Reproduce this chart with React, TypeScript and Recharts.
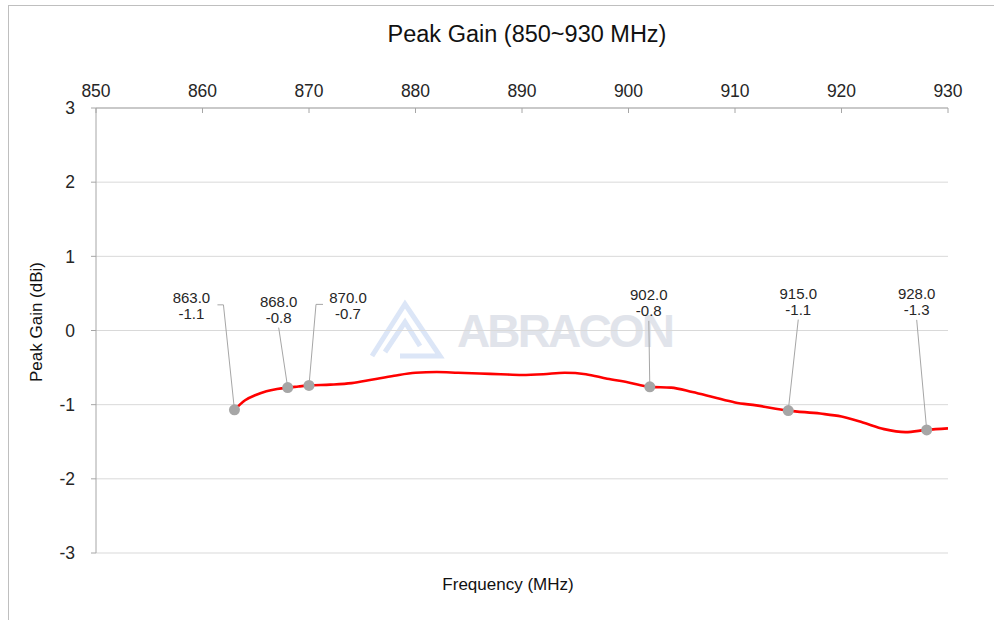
import { ComposedChart, Line, XAxis, YAxis, CartesianGrid } from 'recharts';

// measured peak gain (dBi) vs frequency (MHz)
const freqs = [863, 864, 865, 866, 867, 868, 869, 870, 872, 874, 876, 878, 880, 882, 884, 886, 888, 890, 892, 894, 896, 898, 900, 902, 904, 906, 908, 910, 912, 915, 918, 920, 922, 924, 926, 928, 930];
const gains = [-1.07, -0.94, -0.87, -0.82, -0.79, -0.77, -0.755, -0.74, -0.73, -0.71, -0.66, -0.61, -0.57, -0.56, -0.57, -0.58, -0.59, -0.6, -0.59, -0.57, -0.59, -0.65, -0.7, -0.76, -0.77, -0.83, -0.9, -0.97, -1.01, -1.08, -1.12, -1.16, -1.24, -1.33, -1.37, -1.34, -1.32];
const markerFreqs = [863, 868, 870, 902, 915, 928];

const xTicks = [850, 860, 870, 880, 890, 900, 910, 920, 930];
const yTicks = [-3, -2, -1, 0, 1, 2, 3];

const curve = freqs.map((freq, i) => ({ freq, gain: gains[i] }));
const markers = curve.filter((d) => markerFreqs.includes(d.freq));

const FONT = '"Liberation Sans", Arial, sans-serif';

// where each callout label sits relative to its marker
const calloutPos: Record<number, { dx: number; dy: number; side: 'left' | 'right' | 'below' }> = {
  863: { dx: -43, dy: -107, side: 'right' },
  868: { dx: -9, dy: -81, side: 'below' },
  870: { dx: 39, dy: -82, side: 'left' },
  902: { dx: -1, dy: -87, side: 'below' },
  915: { dx: 10, dy: -112, side: 'below' },
  928: { dx: -10, dy: -131, side: 'below' },
};

function Callout(props: any) {
  const { cx, cy, payload } = props;
  const p = calloutPos[payload.freq];
  if (!p) return null;
  const lx = cx + p.dx;
  const ly = cy + p.dy;
  let path = '';
  if (p.side === 'below') path = `M${lx},${ly + 21} L${cx},${cy}`;
  else if (p.side === 'right') path = `M${lx + 26},${ly + 2} H${lx + 32} L${cx},${cy}`;
  else path = `M${lx - 25},${ly + 1} H${lx - 32} L${cx},${cy}`;
  return (
    <g key={`c-${payload.freq}`}>
      <path d={path} stroke="#a6a6a6" strokeWidth={1} fill="none" />
      <circle cx={cx} cy={cy} r={5.5} fill="#a6a6a6" />
      <text x={lx} y={ly} textAnchor="middle" fontSize={15} fontFamily={FONT} fill="#262626">
        {payload.freq.toFixed(1)}
      </text>
      <text x={lx} y={ly + 16} textAnchor="middle" fontSize={15} fontFamily={FONT} fill="#262626">
        {payload.gain.toFixed(1)}
      </text>
    </g>
  );
}

export default function App() {
  return (
    <div style={{ position: 'absolute', left: 0, top: 0, width: 994, height: 620, overflow: 'hidden', background: '#fff' }}>
      <svg width={994} height={620} style={{ position: 'absolute', left: 0, top: 0 }}>
        <rect x={8.5} y={5.5} width={1100} height={700} fill="none" stroke="#bfbfbf" />
        {/* watermark */}
        <g fill="none" stroke="#dce6f7" strokeWidth={5}>
          <path d="M372,356 L405,304 L440,356 L400,356" />
          <path d="M385,352 L405,322 L420,346" />
        </g>
        <text x={457} y={347} fontSize={46} fontWeight="bold" fontFamily={FONT} fill="#e1e4eb" textLength={218}>
          ABRACON
        </text>
        <text x={527} y={42} textAnchor="middle" fontSize={23.5} fontFamily={FONT} fill="#111">
          Peak Gain (850~930 MHz)
        </text>
        <text x={508} y={590} textAnchor="middle" fontSize={17} fontFamily={FONT} fill="#111">
          Frequency (MHz)
        </text>
        <text
          x={0}
          y={0}
          transform="translate(42,322) rotate(-90)"
          textAnchor="middle"
          fontSize={17}
          fontFamily={FONT}
          fill="#111"
        >
          Peak Gain (dBi)
        </text>
      </svg>
      <div style={{ position: 'absolute', left: 0, top: 0 }}>
        <ComposedChart width={994} height={620} margin={{ top: 0, right: 46, bottom: 67, left: 0 }}>
          <CartesianGrid vertical={false} stroke="#d9d9d9" />
          <XAxis
            orientation="top"
            type="number"
            dataKey="freq"
            domain={[850, 930]}
            ticks={xTicks}
            height={108}
            tickSize={-5}
            tickMargin={16.5}
            axisLine={{ stroke: '#a6a6a6' }}
            tickLine={{ stroke: '#a6a6a6' }}
            tick={{ fill: '#262626', fontSize: 17.5, fontFamily: FONT }}
            allowDataOverflow
          />
          <YAxis
            type="number"
            domain={[-3, 3]}
            ticks={yTicks}
            width={96}
            tickSize={5}
            tickMargin={16}
            axisLine={{ stroke: '#a6a6a6' }}
            tickLine={{ stroke: '#a6a6a6' }}
            tick={{ fill: '#262626', fontSize: 17.5, fontFamily: FONT }}
            allowDataOverflow
          />
          <Line
            data={curve}
            dataKey="gain"
            type="monotone"
            stroke="#ff0000"
            strokeWidth={2.6}
            dot={false}
            activeDot={false}
            isAnimationActive={false}
          />
          <Line
            data={markers}
            dataKey="gain"
            stroke="none"
            dot={Callout}
            activeDot={false}
            isAnimationActive={false}
          />
        </ComposedChart>
      </div>
    </div>
  );
}
